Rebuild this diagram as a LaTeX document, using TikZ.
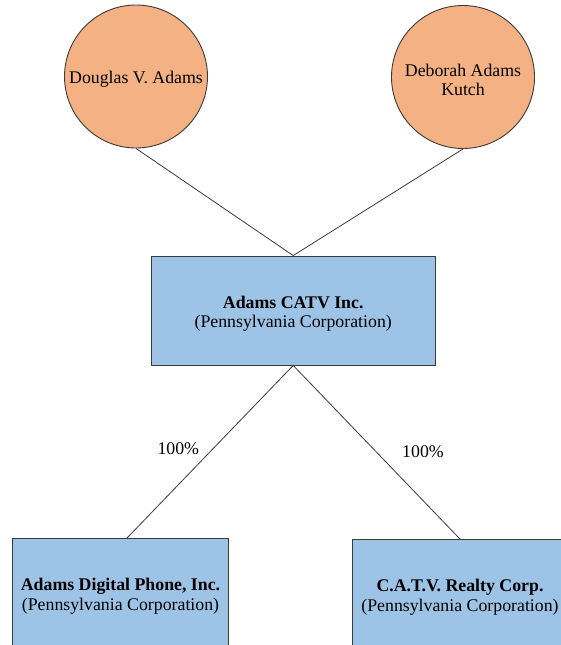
\documentclass[tikz,border=0pt]{standalone}
\usepackage{fontspec}
\setmainfont{Liberation Serif}
\definecolor{personfill}{HTML}{F4B183}
\definecolor{corpfill}{HTML}{9DC3E6}
\definecolor{edgegray}{HTML}{3A3A3A}
\begin{document}
\begin{tikzpicture}[x=1pt,y=-1pt,
  txt/.style={font=\fontsize{17.8}{19.5}\selectfont, align=center},
  person/.style={circle, draw=edgegray, line width=0.9pt, fill=personfill, minimum size=143pt, inner sep=0pt},
  corp/.style={rectangle, draw=edgegray, line width=0.9pt, fill=corpfill, inner sep=0pt},
  inside/.style={label={[txt, yshift=-3pt]center:{#1}}},
  link/.style={draw=edgegray, line width=0.8pt},
  pct/.style={txt}
]
\useasboundingbox (0,0) rectangle (561,645);
\clip (0,0) rectangle (561,645);
\fill[white] (0,0) rectangle (561,645);

\node[person, inside={Douglas V. Adams}] (dva) at (136,76.5) {};
\node[person, inside={Deborah Adams\\Kutch}] (dak) at (463,77) {};

\node[corp, minimum width=284.5pt, minimum height=109pt,
  inside={\textbf{Adams CATV Inc.}\\(Pennsylvania Corporation)}] (catv) at (293.2,310.5) {};

\node[corp, minimum width=215.6pt, minimum height=109pt,
  inside={\textbf{Adams Digital Phone, Inc.}\\(Pennsylvania Corporation)}] (adp) at (120.5,593) {};
\node[corp, minimum width=215.6pt, minimum height=109pt,
  inside={\textbf{C.A.T.V. Realty Corp.}\\(Pennsylvania Corporation)}] (rlt) at (460,594) {};

\draw[link] (dva.south) -- (catv.north);
\draw[link] (dak.south) -- (catv.north);
\draw[link] (catv.south) -- ([xshift=6.5pt]adp.north);
\draw[link] (catv.south) -- (rlt.north);

\node[pct] (p1) at (178.3,449) {100\%};
\node[pct] (p2) at (423,451.5) {100\%};
\end{tikzpicture}
\end{document}
